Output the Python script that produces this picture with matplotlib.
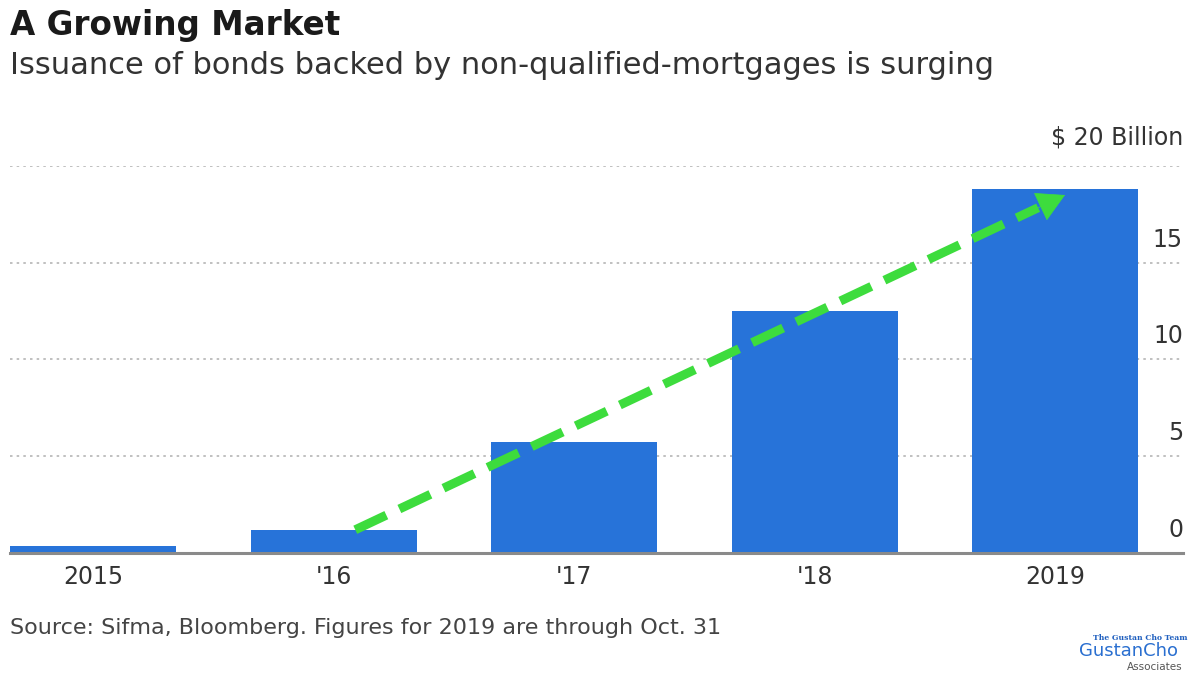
import matplotlib
matplotlib.use("Agg")
import matplotlib.pyplot as plt

categories = ["2015", "'16", "'17", "'18", "2019"]
values = [0.35, 1.2, 5.75, 12.5, 18.8]
yticks = [0, 5, 10, 15, 20]
ytick_labels = ["0", "5", "10", "15", "$ 20 Billion"]
arrow_start = (1.09, 1.2)
arrow_end = (4.04, 18.5)

W, H = 1200, 675
fig = plt.figure(figsize=(12, 6.75), dpi=100)
plt.rcParams['font.family'] = ['DejaVu Sans']

ax_left, ax_right = 10 / W, 1183 / W
ax_bottom, ax_top = (H - 553) / H, (H - 166) / H
ax = fig.add_axes([ax_left, ax_bottom, ax_right - ax_left, ax_top - ax_bottom])

x = list(range(len(categories)))
bar_w = 0.69
ax.bar(x, values, width=bar_w, color="#2773d9", zorder=2)
ax.set_xlim(-bar_w / 2, 4.53)
ax.set_ylim(0, 20)

# gridlines
for v in yticks[1:]:
    ax.axhline(v, color="#b5b5b5", lw=1.2, ls=(0, (1.5, 2.5)), zorder=1)
ax.axhline(0, color="#8a8a8a", lw=2.2, zorder=3, clip_on=False)

for s in ax.spines.values():
    s.set_visible(False)
ax.set_yticks([])
ax.set_xticks(x)
ax.set_xticklabels(categories, fontsize=17, color="#333333")
ax.tick_params(axis="x", length=0, pad=9)

# y labels on right, above gridlines
for v, lab in zip(yticks, ytick_labels):
    ax.annotate(lab, xy=(1.0, v), xycoords=("axes fraction", "data"),
                xytext=(0, 8 if v < 20 else 12), textcoords="offset points",
                ha="right", va="bottom", fontsize=17, color="#333333",
                annotation_clip=False)

# green dashed arrow: dashed shaft + solid head
fx = 0.962  # fraction of the way where shaft ends / head begins
shaft_end = (arrow_start[0] + fx * (arrow_end[0] - arrow_start[0]),
             arrow_start[1] + fx * (arrow_end[1] - arrow_start[1]))
ax.plot([arrow_start[0], shaft_end[0]], [arrow_start[1], shaft_end[1]],
        color="#3ddc3d", lw=6.5, ls=(0, (3.8, 1.6)), solid_capstyle="butt",
        dash_capstyle="butt", zorder=5)
ax.annotate("", xy=arrow_end, xytext=shaft_end,
            arrowprops=dict(arrowstyle="-|>,head_length=1.05,head_width=0.58",
                            color="#3ddc3d", lw=0.5, mutation_scale=18,
                            shrinkA=0, shrinkB=0), zorder=5)

# titles
fig.text(10 / W, 1 - 26 / H, "A Growing Market", fontsize=23.5, fontweight="bold",
         color="#1a1a1a", ha="left", va="center")
fig.text(10 / W, 1 - 66 / H, "Issuance of bonds backed by non-qualified-mortgages is surging",
         fontsize=22, color="#333333", ha="left", va="center")
fig.text(10 / W, 1 - 628 / H, "Source: Sifma, Bloomberg. Figures for 2019 are through Oct. 31",
         fontsize=16, color="#444444", ha="left", va="center")

# logo text
fig.text(1140 / W, 1 - 638 / H, "The Gustan Cho Team", fontsize=5.5, color="#1f5fbf",
         ha="center", va="center", family="DejaVu Serif", fontweight="bold")
fig.text(1128 / W, 1 - 651 / H, "GustanCho", fontsize=13, color="#2a6fd0",
         ha="center", va="center")
fig.text(1183 / W, 1 - 667 / H, "Associates", fontsize=7.5, color="#555555",
         ha="right", va="center")

fig.savefig("out.png", dpi=100)
